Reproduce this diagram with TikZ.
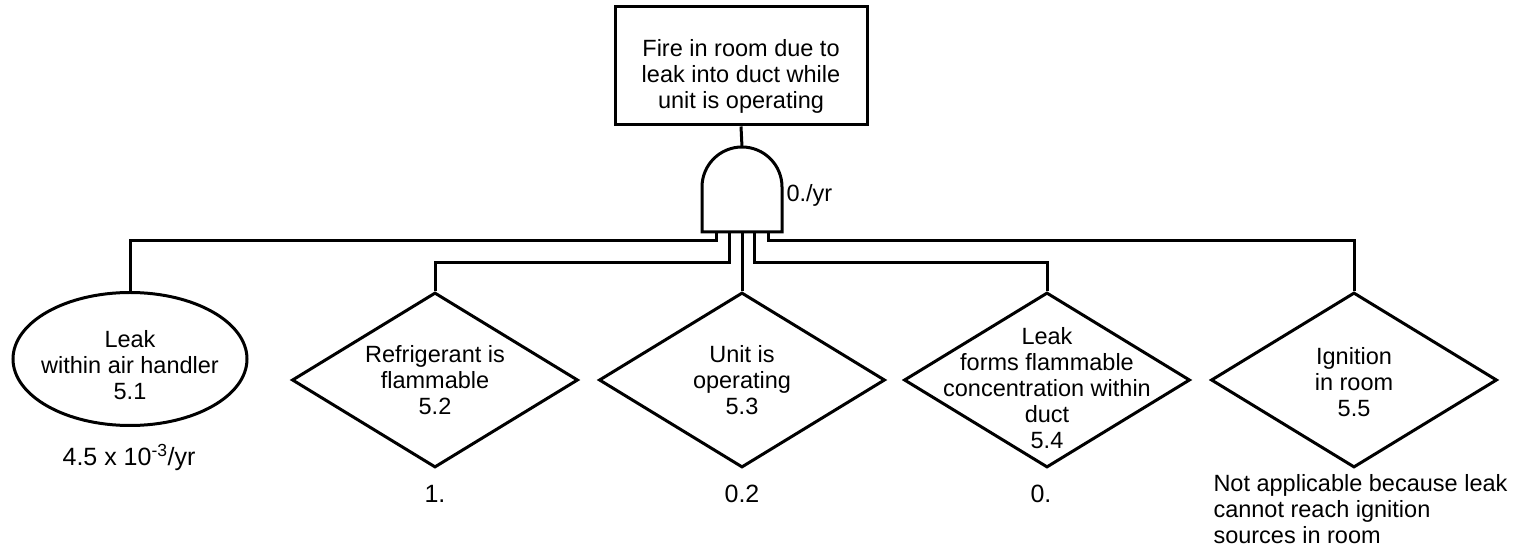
\documentclass[tikz,border=0pt]{standalone}
\usepackage{fontspec}
\setmainfont{Liberation Sans}
\usetikzlibrary{shapes.geometric,positioning}

\begin{document}
\begin{tikzpicture}[
  x=1pt, y=1pt,
  line width=3pt,
  every node/.style={font=\fontsize{23.5}{26}\selectfont, align=center, inner sep=0pt},
  evbox/.style={draw, rectangle, minimum width=252pt, minimum height=118pt},
  basicev/.style={draw, ellipse, minimum width=234pt, minimum height=133pt},
  condev/.style={draw, diamond, minimum width=286pt, minimum height=175pt},
  val/.style={font=\fontsize{25}{28}\selectfont}
]
  \useasboundingbox (0,0) rectangle (1520,549);

  % top event and AND gate
  \node[evbox, label={[yshift=-10pt]center:Fire in room due to\\leak into duct while\\unit is operating}] (fire) at (741,483) {};
  \draw (702,317) -- (702,362) arc[start angle=180, end angle=0, radius=40] -- (782,317) -- cycle;
  \coordinate (gtop) at (742,402);
  \coordinate (in1) at (716,317);
  \coordinate (in2) at (729,317);
  \coordinate (in3) at (742,317);
  \coordinate (in4) at (754,317);
  \coordinate (in5) at (768,317);
  \node[anchor=west] (grate) at (785,354) {0./yr};

  % inputs
  \node[basicev, label={[yshift=-6pt]center:Leak\\within air handler\\5.1}] (e1) at (130,190) {};
  \node[condev, label={center:Refrigerant is\\flammable\\5.2}] (d2) at (435,169) {};
  \node[condev, label={center:Unit is\\operating\\5.3}] (d3) at (742,169) {};
  \node[condev, label={[yshift=-8pt]center:Leak\\forms flammable\\concentration within\\duct\\5.4}] (d4) at (1047,169) {};
  \node[condev, label={[yshift=-2pt]center:Ignition\\in room\\5.5}] (d5) at (1354,169) {};

  % values
  \node[val] (v1) at (129,92) {4.5 x 10\textsuperscript{-3}/yr};
  \node[val] (v2) at ([yshift=-25pt]d2.south) {1.};
  \node[val] (v3) at ([yshift=-25pt]d3.south) {0.2};
  \node[val] (v4) at ([xshift=-6pt,yshift=-25pt]d4.south) {0.};
  \node[anchor=west, align=left] (v5) at (1212,40) {Not applicable because leak\\cannot reach ignition\\sources in room};

  % connectors
  \draw (fire.south) -- (gtop);
  \draw (in1) -- ++(0,-9) -| (e1.north);
  \draw (in2) -- ++(0,-31) -| (d2.north);
  \draw (in3) -- (d3.north);
  \draw (in4) -- ++(0,-31) -| (d4.north);
  \draw (in5) -- ++(0,-9) -| (d5.north);
\end{tikzpicture}
\end{document}
